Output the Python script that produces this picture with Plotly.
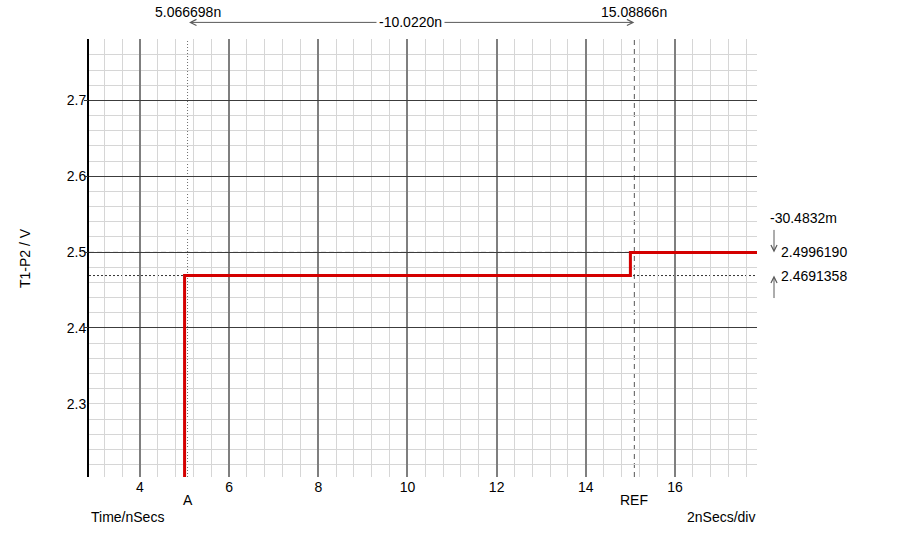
import plotly.graph_objects as go

# ---- data ----
time_ns = [5.0, 5.0, 15.0, 15.0, 17.9]
volts = [2.15, 2.4691358, 2.4691358, 2.4996190, 2.4996190]

cursor_a = 5.066698
cursor_ref = 15.08866
cursor_delta_label = "-10.0220n"
cursor_a_label = "5.066698n"
cursor_ref_label = "15.08866n"

level_ref = 2.4996190
level_a = 2.4691358
level_ref_label = "2.4996190"
level_a_label = "2.4691358"
level_delta_label = "-30.4832m"

x_tick_vals = [4, 6, 8, 10, 12, 14, 16]
x_tick_text = ["4", "6", "8", "10", "12", "14", "16"]
y_tick_vals = [2.3, 2.4, 2.5, 2.6, 2.7]
y_tick_text = ["2.3", "2.4", "2.5", "2.6", "2.7"]
y_grid_vals = [2.4, 2.5, 2.6, 2.7]

x_range = [2.856, 17.84]
y_range = [2.2036, 2.7809]

FONT = "Liberation Sans, Arial, sans-serif"
GRAY = "#5a5a5a"

fig = go.Figure()
fig.add_trace(go.Scatter(
    x=time_ns, y=volts, mode="lines",
    line=dict(color="rgb(212,0,0)", width=3),
    hoverinfo="skip", showlegend=False,
))
# invisible companion trace so the overlaid grid axis is drawn
fig.add_trace(go.Scatter(
    x=time_ns, y=volts, mode="lines", yaxis="y2",
    line=dict(color="rgba(0,0,0,0)", width=0), opacity=0,
    hoverinfo="skip", showlegend=False,
))

# cursor lines
fig.add_shape(type="line", xref="x", yref="paper", x0=cursor_a, x1=cursor_a, y0=0, y1=1,
              line=dict(color="#6e6e6e", width=1, dash="1px,2px"), layer="between")
fig.add_shape(type="line", xref="x", yref="paper", x0=cursor_ref, x1=cursor_ref, y0=0, y1=1,
              line=dict(color="#555555", width=1, dash="5px,4px"), layer="between")
fig.add_shape(type="line", xref="paper", yref="y", x0=0, x1=1, y0=level_ref, y1=level_ref,
              line=dict(color="#1a1a1a", width=1, dash="5px,3px"), layer="between")
fig.add_shape(type="line", xref="paper", yref="y", x0=0, x1=1, y0=level_a, y1=level_a,
              line=dict(color="#333333", width=1, dash="2px,2px"), layer="between")

ann = []
tf = dict(family=FONT, size=14, color="black")
# top cursor readouts
ann.append(dict(x=cursor_a, xref="x", y=1, yref="paper", yanchor="middle", yshift=27,
                text=cursor_a_label, showarrow=False, font=tf, borderpad=0))
ann.append(dict(x=cursor_ref, xref="x", y=1, yref="paper", yanchor="middle", yshift=27,
                text=cursor_ref_label, showarrow=False, font=tf, borderpad=0))
arrow_y = 1 + (39.3 - 22.7) / 438
ann.append(dict(x=cursor_ref, xref="x", y=arrow_y, yref="paper",
                ax=cursor_a, axref="x", ay=0, ayref="pixel", text="",
                showarrow=True, arrowside="end+start", arrowhead=5, startarrowhead=5,
                arrowsize=1.2, startarrowsize=1.2, arrowwidth=1, arrowcolor=GRAY))
ann.append(dict(x=(cursor_a + cursor_ref) / 2, xref="x", y=arrow_y, yref="paper",
                yanchor="middle", text=cursor_delta_label, showarrow=False,
                bgcolor="white", borderpad=2, font=tf))
# right side level readouts
ann.append(dict(x=1, xref="paper", y=level_ref, yref="y", xanchor="left", xshift=11,
                yanchor="middle", yshift=34, text=level_delta_label, showarrow=False, font=tf))
ann.append(dict(x=1, xref="paper", y=level_ref, yref="y", xanchor="left", xshift=22,
                yanchor="middle", text=level_ref_label, showarrow=False, font=tf))
ann.append(dict(x=1, xref="paper", y=level_a, yref="y", xanchor="left", xshift=22,
                yanchor="middle", text=level_a_label, showarrow=False, font=tf))
arr_x = 1 + (774 - 757) / 668
ann.append(dict(x=arr_x, xref="paper", y=level_ref, yref="y", ax=0, ay=-24,
                axref="pixel", ayref="pixel", text="", showarrow=True, arrowhead=5,
                arrowsize=1.2, arrowwidth=1, arrowcolor=GRAY))
ann.append(dict(x=arr_x, xref="paper", y=level_a, yref="y", ax=0, ay=24,
                axref="pixel", ayref="pixel", text="", showarrow=True, arrowhead=5,
                arrowsize=1.2, arrowwidth=1, arrowcolor=GRAY))
# bottom labels
ann.append(dict(x=cursor_a, xref="x", y=0, yref="paper", yanchor="middle", yshift=-23,
                text="A", showarrow=False, font=tf))
ann.append(dict(x=cursor_ref, xref="x", y=0, yref="paper", yanchor="middle", yshift=-23,
                text="REF", showarrow=False, font=tf))
ann.append(dict(x=0, xref="paper", y=0, yref="paper", xanchor="left", yanchor="middle",
                yshift=-40, text="Time/nSecs", showarrow=False, font=tf))
ann.append(dict(x=1, xref="paper", y=0, yref="paper", xanchor="right", yanchor="middle",
                yshift=-40, text="2nSecs/div", showarrow=False, font=tf))
ann.append(dict(x=0, xref="paper", y=0.5, yref="paper", xanchor="center", yanchor="middle",
                xshift=-64, textangle=-90, text="T1-P2 / V", showarrow=False, font=tf))

fig.update_layout(
    width=900, height=535,
    margin=dict(l=89, r=143, t=39, b=58, pad=0),
    paper_bgcolor="white", plot_bgcolor="white",
    font=dict(family=FONT, size=14, color="black"),
    showlegend=False,
    annotations=ann,
    xaxis=dict(
        range=x_range, tickmode="array", tickvals=x_tick_vals, ticktext=x_tick_text,
        showgrid=True, gridcolor="#7f7f7f", gridwidth=2, zeroline=False,
        showline=False, ticks="", tickfont=tf,
        minor=dict(tick0=0, dtick=0.4, showgrid=True, gridcolor="#d6d6d6", gridwidth=1, ticks=""),
    ),
    yaxis=dict(
        range=y_range, tickmode="array", tickvals=y_tick_vals, ticktext=y_tick_text,
        showgrid=False, zeroline=False, ticks="", tickfont=tf, ticklabelstandoff=-2,
        showline=True, linecolor="black", linewidth=2,
        minor=dict(tick0=2.3, dtick=0.02, showgrid=True, gridcolor="#d6d6d6", gridwidth=1, ticks=""),
    ),
    yaxis2=dict(
        range=y_range, overlaying="y", anchor="x", side="left",
        tickmode="array", tickvals=y_grid_vals, showticklabels=False,
        ticks="outside", ticklen=4, tickcolor="#333333",
        showgrid=True, gridcolor="#3c3c3c", gridwidth=1, zeroline=False, showline=False,
    ),
)

# remove the page's default body margin so the 900x535 figure fills the window
fig.write_html(
    "out.html",
    config={"displayModeBar": False, "staticPlot": True},
    post_script="document.body.style.margin='0';document.body.style.overflow='hidden';",
)
